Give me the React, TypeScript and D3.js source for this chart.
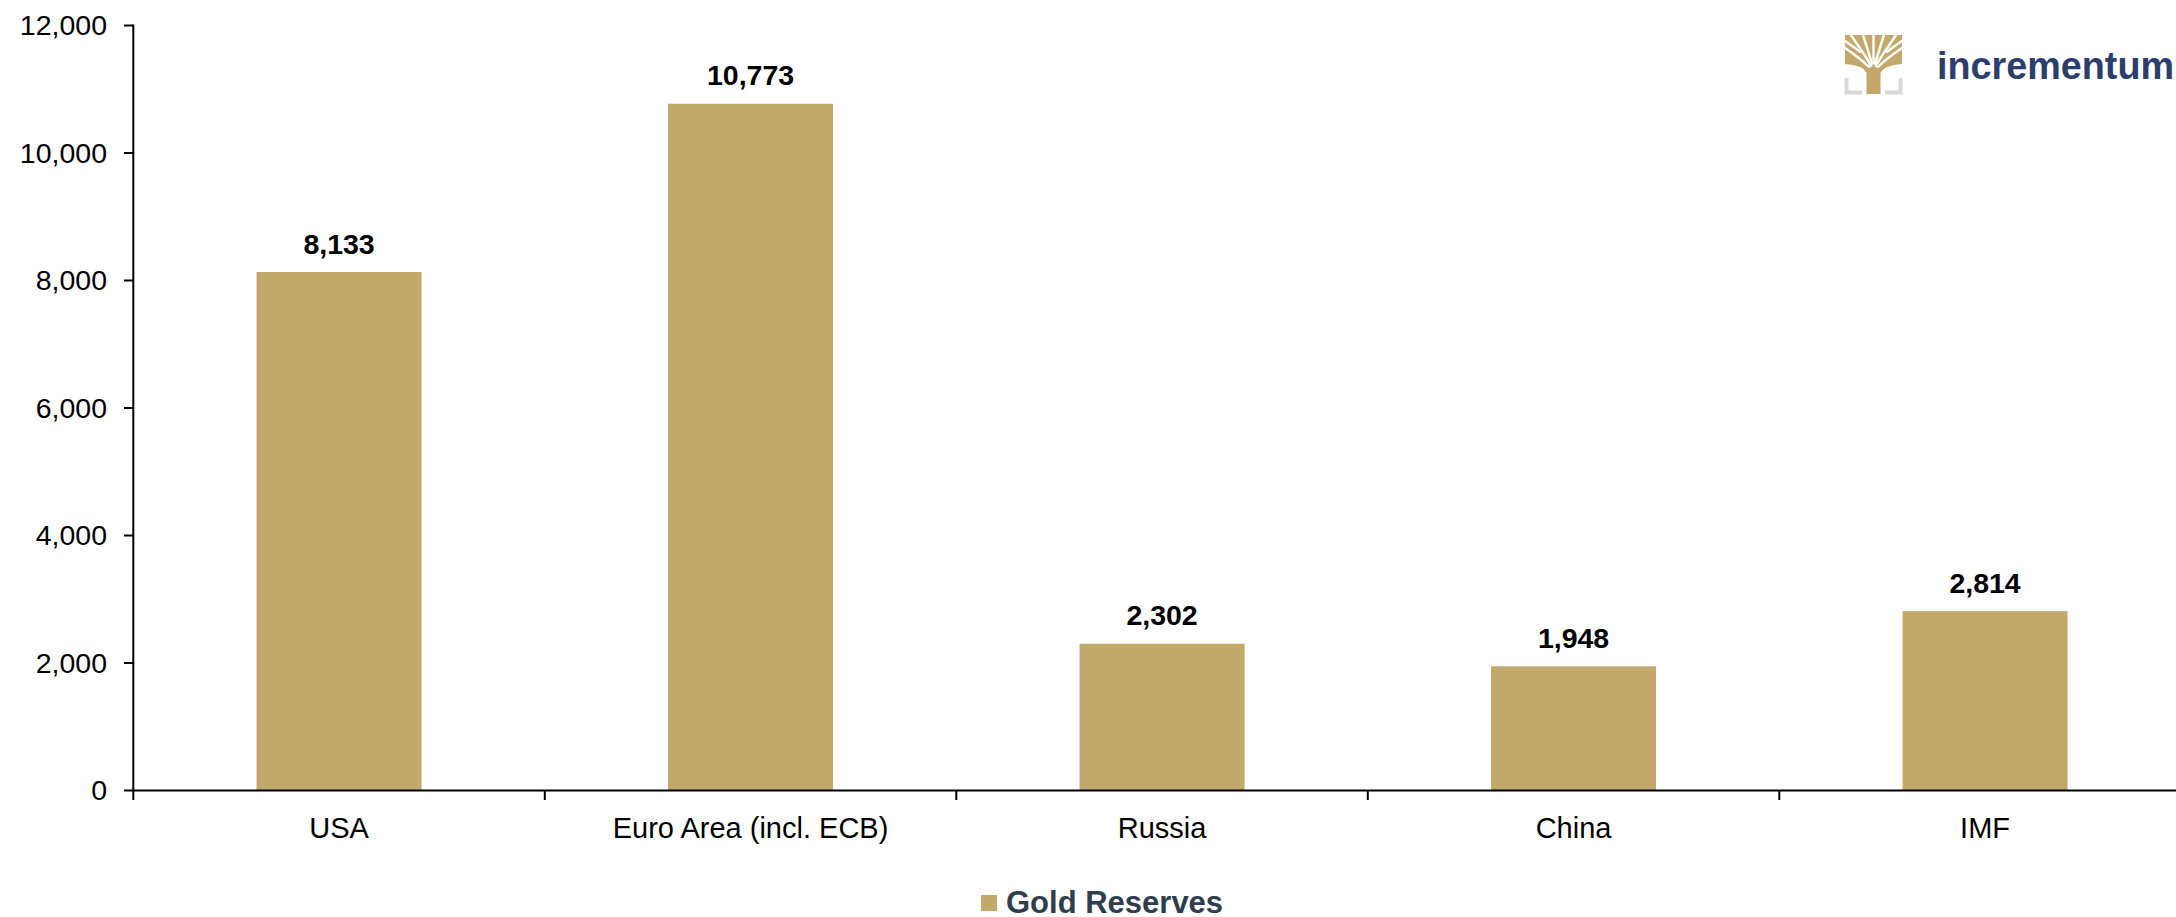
import React from "react";
import * as d3 from "d3";

const categories: string[] = ["USA", "Euro Area (incl. ECB)", "Russia", "China", "IMF"];
const goldReserves: number[] = [8133, 10773, 2302, 1948, 2814];
const yTicks: number[] = [0, 2000, 4000, 6000, 8000, 10000, 12000];
const seriesName = "Gold Reserves";

const W = 2176;
const H = 917;
const FONT = "'Liberation Sans', Arial, Helvetica, sans-serif";
const GOLD = "#c2a96b";

export default function App() {
  const x0 = 133.3;
  const step = 411.5;
  const x = d3
    .scaleBand<string>()
    .domain(categories)
    .range([x0, x0 + step * categories.length])
    .padding(0);
  const y = d3.scaleLinear().domain([0, 12000]).range([790.5, 25.5]);
  const barW = x.bandwidth() * 0.401;
  const fmt = d3.format(",");

  const boundaries = categories.map((c) => (x(c) as number) + x.bandwidth());

  const branches = [
    "M1871,66 C1866,56 1858,46 1851,35",
    "M1872,64 C1869,54 1866,44 1863,35",
    "M1873.5,63 C1873.5,54 1873.5,44 1873.5,35",
    "M1875,64 C1878,54 1881,44 1884,35",
    "M1876,66 C1881,56 1889,46 1896,35",
    "M1869,67 C1862,60 1854,54 1845,48",
    "M1878,67 C1885,60 1893,54 1902,48",
    "M1860,52 C1856,48 1852,46 1845,41",
    "M1887,52 C1891,48 1895,46 1902,41",
  ];

  return (
    <svg
      width={W}
      height={H}
      style={{ position: "absolute", left: 0, top: 0, background: "#fff" }}
      fontFamily={FONT}
    >
      <rect x={0} y={0} width={W} height={H} fill="#fff" />
      {/* bars */}
      {categories.map((c, i) => {
        const cx = (x(c) as number) + x.bandwidth() / 2;
        const v = goldReserves[i];
        return (
          <g key={c}>
            <rect x={cx - barW / 2} y={y(v)} width={barW} height={y(0) - y(v)} fill={GOLD} />
            <text
              x={cx}
              y={y(v) - 18.5}
              textAnchor="middle"
              fontSize={28.5}
              fontWeight="bold"
              fill="#000"
            >
              {fmt(v)}
            </text>
            <text x={cx} y={838.3} textAnchor="middle" fontSize={29} fill="#000">
              {c}
            </text>
          </g>
        );
      })}
      {/* y axis */}
      <line x1={x0} x2={x0} y1={y(12000) - 1} y2={800} stroke="#000" strokeWidth={2} />
      {yTicks.map((t) => (
        <g key={t}>
          <line x1={124} x2={x0} y1={y(t)} y2={y(t)} stroke="#000" strokeWidth={2} />
          <text x={107} y={y(t) + 9.5} textAnchor="end" fontSize={28.5} fill="#000">
            {fmt(t)}
          </text>
        </g>
      ))}
      {/* x axis */}
      <line x1={x0} x2={W} y1={y(0)} y2={y(0)} stroke="#000" strokeWidth={2} />
      {boundaries.map((b, i) => (
        <line key={i} x1={b} x2={b} y1={y(0)} y2={800} stroke="#000" strokeWidth={2} />
      ))}
      {/* legend */}
      <rect x={981} y={895} width={16} height={16} fill={GOLD} />
      <text x={1006} y={913} fontSize={31} fontWeight="bold" fill="#2f3e4f">
        {seriesName}
      </text>
      {/* logo */}
      <g>
        <path
          d="M1845,35 H1902 V64 C1891,65 1883,67 1880.5,73 L1880.5,94 L1866.5,94 L1866.5,73 C1864,67 1856,65 1845,64 Z"
          fill={GOLD}
        />
        {branches.map((p, i) => (
          <path key={i} d={p} fill="none" stroke="#fff" strokeWidth={2.4} strokeLinecap="round" />
        ))}
        <path d="M1846.5,78 L1846.5,92.5 L1862,92.5" fill="none" stroke="#d9d9d9" strokeWidth={4} />
        <path d="M1900.5,78 L1900.5,92.5 L1885,92.5" fill="none" stroke="#d9d9d9" strokeWidth={4} />
        <text
          x={1937}
          y={78.5}
          fontSize={39}
          fontWeight="bold"
          fill="#2c3e6b"
          textLength={237}
          lengthAdjust="spacingAndGlyphs"
        >
          incrementum
        </text>
      </g>
    </svg>
  );
}
